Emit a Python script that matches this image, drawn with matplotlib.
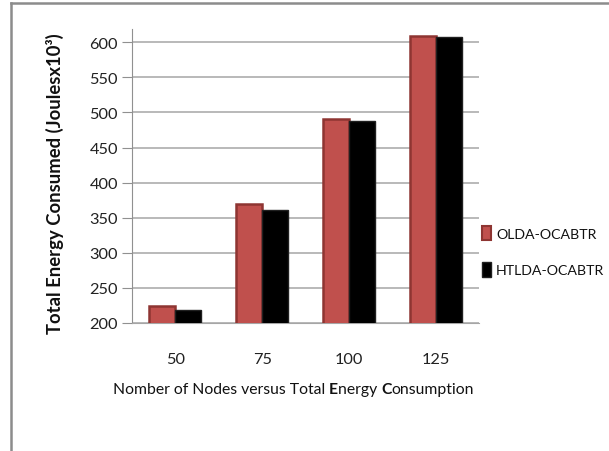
import matplotlib.pyplot as plt
import matplotlib.patches as mpatches
import numpy as np

plt.rcParams['font.family'] = ['Lato', 'DejaVu Sans']

categories = ['50', '75', '100', '125']
olda = [224, 370, 491, 609]
htlda = [218, 361, 488, 607]
yticks = [200, 250, 300, 350, 400, 450, 500, 550, 600]

fig = plt.figure(figsize=(6.09, 4.52), dpi=100)
ax = fig.add_axes([132/609, 1 - 324/452, (479 - 132)/609, (324 - 30)/452])

x = np.arange(len(categories))
w = 0.3
ax.bar(x - w/2, olda, w, color='#C0504D', edgecolor='#8E3532',
       linewidth=1.8, zorder=3, label='OLDA-OCABTR')
ax.bar(x + w/2, htlda, w, color='#000000', edgecolor='#202020',
       linewidth=1.0, zorder=3, label='HTLDA-OCABTR')

ax.set_xlim(-0.5, 3.5)
ax.set_ylim(200, 619)
ax.set_yticks(yticks)
ax.set_xticks(x)
ax.set_xticklabels(categories)
ax.yaxis.grid(True, color='#a6a6a6', linewidth=1.1, zorder=0)
ax.set_axisbelow(True)
for s in ['top', 'right']:
    ax.spines[s].set_visible(False)
ax.spines['left'].set_color('#909090')
ax.spines['bottom'].set_color('#a6a6a6')
ax.tick_params(axis='y', length=7, color='#909090', labelsize=11.8, pad=3,
               labelcolor='#222222')
ax.tick_params(axis='x', length=0, labelsize=11.8, pad=21, labelcolor='#222222')

fig.text(55/609, 1 - 184/452, 'Total Energy Consumed (Joulesx10³)',
         rotation=90, ha='center', va='center', fontsize=13.3,
         fontweight='bold', color='#111111')

# x label with bold E and C
parts = [('Nomber of Nodes versus Total ', 'normal'), ('E', 'bold'),
         ('nergy ', 'normal'), ('C', 'bold'), ('onsumption', 'normal')]
prev = fig.text(113/609, 1 - 394/452, parts[0][0], ha='left', va='baseline',
                fontsize=11.3, fontweight=parts[0][1], color='#111111')
for txt, wt in parts[1:]:
    prev = ax.annotate(txt, xy=(1, 0), xycoords=prev, ha='left', va='bottom',
                       fontsize=11.3, fontweight=wt, color='#111111',
                       annotation_clip=False)

handles = [mpatches.Patch(facecolor='#C0504D', edgecolor='#8E3532', linewidth=1.5),
           mpatches.Patch(facecolor='#000000', edgecolor='#202020')]
fig.legend(handles, ['OLDA-OCABTR', 'HTLDA-OCABTR'], loc='center left',
           bbox_to_anchor=(469/609, 1 - 252/452), frameon=False,
           fontsize=10.2, handlelength=0.65, handleheight=1.2,
           handletextpad=0.35, labelspacing=1.55, labelcolor='#111111')

# outer frame lines
fig.add_artist(plt.Line2D([11/609, 11/609], [0, 1 - 4/452],
                          color='#8c8c8c', linewidth=1.8, transform=fig.transFigure))
fig.add_artist(plt.Line2D([11/609, 1], [1 - 4/452, 1 - 4/452],
                          color='#8c8c8c', linewidth=1.8, transform=fig.transFigure))

fig.savefig('out.png', dpi=100)
